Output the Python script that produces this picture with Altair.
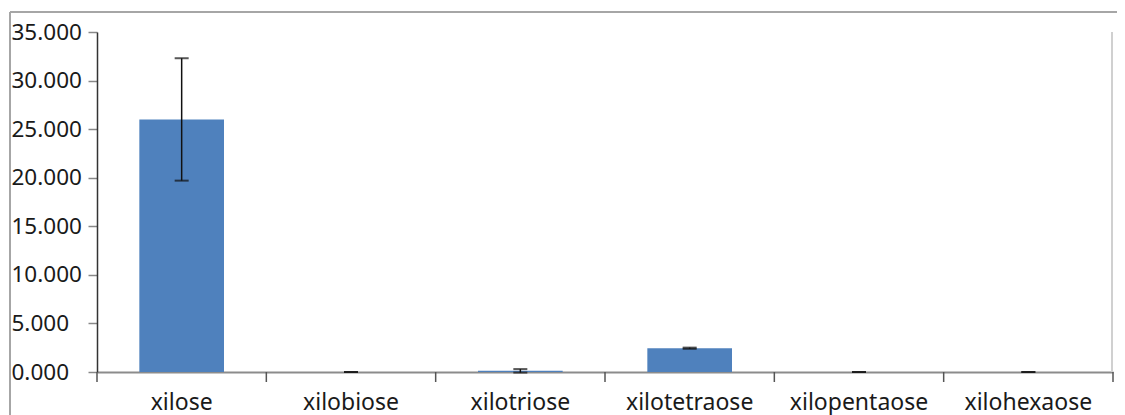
import altair as alt
import pandas as pd

categories = ["xilose", "xilobiose", "xilotriose", "xilotetraose", "xilopentaose", "xilohexaose"]
values = [26.0, 0.0, 0.12, 2.45, 0.0, 0.0]
errors = [6.3, 0.0, 0.18, 0.06, 0.0, 0.0]
y_ticks = [0, 5, 10, 15, 20, 25, 30, 35]
boundaries = [0, 1, 2, 3, 4, 5, 6]

W, H = 1016, 340

df = pd.DataFrame({"cat": categories, "val": values, "err": errors})
df["lo"] = df["val"] - df["err"]
df["hi"] = df["val"] + df["err"]

FONT = "Noto Sans"

xband = alt.X(
    "cat:N",
    sort=categories,
    scale=alt.Scale(paddingInner=0.5, paddingOuter=0.25),
    axis=alt.Axis(
        title=None, labelAngle=0, ticks=False, tickSize=0, labelPadding=37,
        labelBaseline="alphabetic", labelFont=FONT, labelFontSize=23,
        labelColor="#1a1a1a", domainColor="#8c8c8c", domainWidth=2,
    ),
)
yscale = alt.Scale(domain=[0, 35], nice=False)
yaxis = alt.Axis(
    title=None, values=y_ticks, format=".3f", labelAlign="left", labelPadding=77,
    tickSize=9, tickColor="#888888", tickWidth=1.5, labelFont=FONT, labelFontSize=22.5,
    labelColor="#1a1a1a", domainColor="#333333", domainWidth=1.5, labelBaseline="middle",
)

bars = alt.Chart(df).mark_bar(color="#4F81BD").encode(
    x=xband, y=alt.Y("val:Q", scale=yscale, axis=yaxis)
)
err_line = alt.Chart(df).mark_rule(color="#111111", strokeWidth=1.5).encode(
    x=alt.X("cat:N", sort=categories), y="lo:Q", y2="hi:Q"
)
cap_lo = alt.Chart(df).mark_tick(color="#111111", thickness=2, size=14).encode(
    x=alt.X("cat:N", sort=categories), y="lo:Q"
)
cap_hi = alt.Chart(df).mark_tick(color="#111111", thickness=2, size=14).encode(
    x=alt.X("cat:N", sort=categories), y="hi:Q"
)

main = alt.layer(bars, err_line, cap_lo, cap_hi)

bdf = pd.DataFrame({"b": boundaries})
xticks = alt.Chart(bdf).mark_rule(color="#555555", strokeWidth=1.5).encode(
    x=alt.X("b:Q", scale=alt.Scale(domain=[0, 6], nice=False), axis=None),
    y=alt.value(H), y2=alt.value(H + 10),
)

one = alt.Data(values=[{"k": 1}])
right_border = alt.Chart(one).mark_rule(color="#d0d0d0", strokeWidth=2).encode(
    x=alt.value(W - 1), y=alt.value(0), y2=alt.value(H)
)
frame_top = alt.Chart(one).mark_rule(color="#a6a6a6", strokeWidth=2).encode(
    x=alt.value(-87), x2=alt.value(W + 10), y=alt.value(-20)
)
frame_left = alt.Chart(one).mark_rule(color="#a6a6a6", strokeWidth=2).encode(
    x=alt.value(-87), y=alt.value(-20), y2=alt.value(H + 60)
)

chart = alt.layer(main, xticks, right_border, frame_top, frame_left).resolve_scale(
    x="independent"
).properties(
    width=W, height=H, autosize="none",
    padding={"left": 89, "top": 24, "right": 4, "bottom": 43},
    background="white",
).configure_view(stroke=None).configure_axis(grid=False)

chart.save("out.html", embed_options={"renderer": "svg", "actions": False})
